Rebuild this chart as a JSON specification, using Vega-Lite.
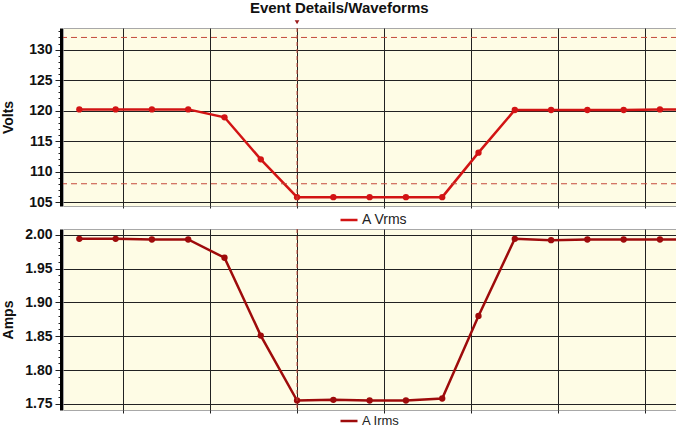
{
  "$schema": "https://vega.github.io/schema/vega-lite/v6.json",
  "background": "white",
  "padding": 0,
  "autosize": {"type": "pad"},
  "config": {
    "font": "Liberation Sans",
    "view": {"stroke": "#a8a8a8", "fill": "#fefce5"}
  },
  "title": {
    "text": "Event Details/Waveforms",
    "fontSize": 15,
    "fontWeight": "bold",
    "font": "Liberation Sans",
    "color": "#111",
    "anchor": "middle",
    "frame": "bounds",
    "offset": 4
  },
  "datasets": {
    "volts": [
      {"t": -100, "volts": 120.2, "series": "A Vrms"},
      {"t": -83.33, "volts": 120.2, "series": "A Vrms"},
      {"t": -66.67, "volts": 120.2, "series": "A Vrms"},
      {"t": -50, "volts": 120.2, "series": "A Vrms"},
      {"t": -33.33, "volts": 118.9, "series": "A Vrms"},
      {"t": -16.67, "volts": 112.0, "series": "A Vrms"},
      {"t": 0, "volts": 105.8, "series": "A Vrms"},
      {"t": 16.67, "volts": 105.8, "series": "A Vrms"},
      {"t": 33.33, "volts": 105.8, "series": "A Vrms"},
      {"t": 50, "volts": 105.8, "series": "A Vrms"},
      {"t": 66.67, "volts": 105.8, "series": "A Vrms"},
      {"t": 83.33, "volts": 113.1, "series": "A Vrms"},
      {"t": 100, "volts": 120.1, "series": "A Vrms"},
      {"t": 116.67, "volts": 120.1, "series": "A Vrms"},
      {"t": 133.33, "volts": 120.1, "series": "A Vrms"},
      {"t": 150, "volts": 120.1, "series": "A Vrms"},
      {"t": 166.67, "volts": 120.2, "series": "A Vrms"},
      {"t": 183.33, "volts": 120.2, "series": "A Vrms"}
    ],
    "amps": [
      {"t": -100, "amps": 1.994, "series": "A Irms"},
      {"t": -83.33, "amps": 1.994, "series": "A Irms"},
      {"t": -66.67, "amps": 1.993, "series": "A Irms"},
      {"t": -50, "amps": 1.993, "series": "A Irms"},
      {"t": -33.33, "amps": 1.966, "series": "A Irms"},
      {"t": -16.67, "amps": 1.851, "series": "A Irms"},
      {"t": 0, "amps": 1.755, "series": "A Irms"},
      {"t": 16.67, "amps": 1.756, "series": "A Irms"},
      {"t": 33.33, "amps": 1.755, "series": "A Irms"},
      {"t": 50, "amps": 1.755, "series": "A Irms"},
      {"t": 66.67, "amps": 1.758, "series": "A Irms"},
      {"t": 83.33, "amps": 1.880, "series": "A Irms"},
      {"t": 100, "amps": 1.994, "series": "A Irms"},
      {"t": 116.67, "amps": 1.992, "series": "A Irms"},
      {"t": 133.33, "amps": 1.993, "series": "A Irms"},
      {"t": 150, "amps": 1.993, "series": "A Irms"},
      {"t": 166.67, "amps": 1.993, "series": "A Irms"},
      {"t": 183.33, "amps": 1.993, "series": "A Irms"}
    ]
  },
  "vconcat": [
    {
      "width": 614,
      "height": 178,
      "layer": [
        {
          "data": {"name": "volts"},
          "mark": {"type": "line", "strokeWidth": 2.5, "clip": true, "point": {"filled": true, "size": 40, "clip": true}},
          "encoding": {
            "x": {
              "field": "t", "type": "quantitative",
              "scale": {"domain": [-107.5, 174.5], "nice": false, "zero": false},
              "axis": {"title": null, "values": [-80, -40, 0, 40, 80, 120, 160], "tickCount": 100, "labels": false, "domain": false, "ticks": true, "tickSize": 2, "tickColor": "#222", "grid": true, "gridColor": "#222", "gridWidth": 1, "gridOpacity": 1}
            },
            "y": {
              "field": "volts", "type": "quantitative",
              "scale": {"domain": [104.35, 133.55], "nice": false, "zero": false},
              "axis": {
                "title": "Volts",
                "titleFontSize": 14, "titleFontWeight": "bold", "titleColor": "#111", "titleFont": "Liberation Sans",
                "titleBaseline": "top", "titleX": -60,
                "values": [105,106,107,108,109,110,111,112,113,114,115,116,117,118,119,120,121,122,123,124,125,126,127,128,129,130,131,132,133],
                "tickCount": 100,
                "format": "d",
                "labelExpr": "abs(datum.value/5 - round(datum.value/5)) < 0.000001 ? datum.label : ''",
                "labelOverlap": false,
                "labelFontSize": 14, "labelFontWeight": "bold", "labelColor": "#111", "labelPadding": 3,
                "offset": 2,
                "domainColor": "#000", "domainWidth": 3,
                "tickColor": "#222", "tickWidth": 1,
                "tickSize": {"condition": {"test": "abs(datum.value/5 - round(datum.value/5)) < 0.000001", "value": 6}, "value": 3},
                "grid": true, "gridColor": "#222", "gridWidth": 1,
                "gridOpacity": {"condition": {"test": "abs(datum.value/5 - round(datum.value/5)) < 0.000001", "value": 1}, "value": 0}
              }
            },
            "color": {
              "field": "series", "type": "nominal",
              "scale": {"range": ["#d21414"]},
              "legend": {"orient": "none", "legendX": 276, "legendY": 182, "title": null, "symbolType": "stroke", "symbolStrokeWidth": 2.5, "symbolSize": 289, "labelOffset": 3, "labelFontSize": 14, "labelColor": "#222", "labelFont": "Liberation Sans"}
            }
          }
        },
        {
          "data": {"values": [{"volts": 132}, {"volts": 108}]},
          "mark": {"type": "rule", "color": "#c4493a", "strokeDash": [6, 4], "strokeWidth": 1},
          "encoding": {
            "y": {"field": "volts", "type": "quantitative"}
          }
        },
        {
          "data": {"values": [{"t": 0}]},
          "mark": {"type": "rule", "color": "#c4493a", "strokeDash": [4, 3], "strokeWidth": 1},
          "encoding": {
            "x": {"field": "t", "type": "quantitative"}
          }
        },
        {
          "data": {"values": [{"t": 0, "volts": 134.5}]},
          "mark": {"type": "point", "shape": "triangle-down", "filled": true, "size": 22, "color": "#9a1a1a", "opacity": 1, "clip": false},
          "encoding": {
            "x": {"field": "t", "type": "quantitative"},
            "y": {"field": "volts", "type": "quantitative"}
          }
        }
      ]
    },
    {
      "width": 614,
      "height": 181,
      "layer": [
        {
          "data": {"name": "amps"},
          "mark": {"type": "line", "strokeWidth": 2.5, "clip": true, "point": {"filled": true, "size": 40, "clip": true}},
          "encoding": {
            "x": {
              "field": "t", "type": "quantitative",
              "scale": {"domain": [-107.5, 174.5], "nice": false, "zero": false},
              "axis": {"title": null, "values": [-80, -40, 0, 40, 80, 120, 160], "tickCount": 100, "labels": false, "domain": false, "ticks": true, "tickSize": 3, "tickColor": "#222", "grid": true, "gridColor": "#222", "gridWidth": 1, "gridOpacity": 1}
            },
            "y": {
              "field": "amps", "type": "quantitative",
              "scale": {"domain": [1.741, 2.0085], "nice": false, "zero": false},
              "axis": {
                "title": "Amps",
                "titleFontSize": 14, "titleFontWeight": "bold", "titleColor": "#111", "titleFont": "Liberation Sans",
                "titleBaseline": "top", "titleX": -60,
                "values": [1.75,1.76,1.77,1.78,1.79,1.8,1.81,1.82,1.83,1.84,1.85,1.86,1.87,1.88,1.89,1.9,1.91,1.92,1.93,1.94,1.95,1.96,1.97,1.98,1.99,2.0],
                "tickCount": 100,
                "format": ".2f",
                "labelExpr": "abs(datum.value*20 - round(datum.value*20)) < 0.000001 ? datum.label : ''",
                "labelOverlap": false,
                "labelFontSize": 14, "labelFontWeight": "bold", "labelColor": "#111", "labelPadding": 3,
                "offset": 2,
                "domainColor": "#000", "domainWidth": 3,
                "tickColor": "#222", "tickWidth": 1,
                "tickSize": {"condition": {"test": "abs(datum.value*20 - round(datum.value*20)) < 0.000001", "value": 6}, "value": 3},
                "grid": true, "gridColor": "#222", "gridWidth": 1,
                "gridOpacity": {"condition": {"test": "abs(datum.value*20 - round(datum.value*20)) < 0.000001", "value": 1}, "value": 0}
              }
            },
            "color": {
              "field": "series", "type": "nominal",
              "scale": {"range": ["#9e0b0b"]},
              "legend": {"orient": "none", "legendX": 276, "legendY": 182, "title": null, "symbolType": "stroke", "symbolStrokeWidth": 2.5, "symbolSize": 289, "labelOffset": 3, "labelFontSize": 13, "labelColor": "#222", "labelFont": "Liberation Sans"}
            }
          }
        },
        {
          "data": {"values": [{"t": 0}]},
          "mark": {"type": "rule", "color": "#c4493a", "strokeDash": [4, 3], "strokeWidth": 1},
          "encoding": {
            "x": {"field": "t", "type": "quantitative"}
          }
        }
      ]
    }
  ],
  "bounds": "flush",
  "spacing": 23,
  "resolve": {"scale": {"x": "independent", "y": "independent", "color": "independent"}, "legend": {"color": "independent"}}
}
